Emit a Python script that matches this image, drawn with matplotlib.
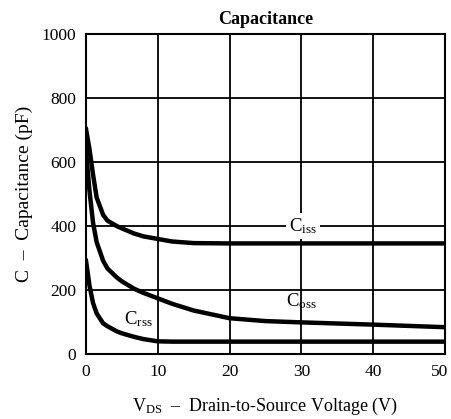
import matplotlib
matplotlib.use("Agg")
import matplotlib.pyplot as plt
import matplotlib.transforms as mtransforms

plt.rcParams['font.family'] = ['Liberation Serif', 'DejaVu Serif']
plt.rcParams['mathtext.fontset'] = 'custom'
plt.rcParams['mathtext.rm'] = 'Liberation Serif'
plt.rcParams['mathtext.it'] = 'Liberation Serif:italic'

vds = [0, 0.5, 1, 1.5, 2.4, 3, 4.3, 5, 6.7, 8, 10, 12, 15, 20, 25, 30, 40, 50]
ciss = [705, 640, 560, 489, 435, 417, 400, 393, 377, 368, 360, 352, 347, 346, 346, 346, 346, 346]
coss = [640, 510, 410, 350, 292, 268, 240, 228, 205, 192, 175, 158, 137, 113, 104, 100, 93, 85]
crss = [295, 215, 160, 128, 97, 88, 72, 66, 55, 48, 41, 40, 40, 40, 40, 40, 40, 40]

xticks = [0, 10, 20, 30, 40, 50]
yticks = [0, 200, 400, 600, 800, 1000]

fig = plt.figure(figsize=(4.52, 4.19), dpi=100)
ax = fig.add_axes([0.190, 0.154, 0.7945, 0.766])

for s in (ciss, coss, crss):
    ax.plot(vds, s, color='black', lw=3.2, solid_joinstyle='round', solid_capstyle='round', zorder=3)

ax.set_xlim(0, 50)
ax.set_ylim(0, 1000)
ax.set_xticks(xticks)
ax.set_yticks(yticks)
ax.grid(True, color='black', lw=1.3)
for sp in ax.spines.values():
    sp.set_linewidth(1.5)
ax.tick_params(length=0, labelsize=12.5, pad=7)

# keep the last x tick label inside the figure
last = ax.get_xticklabels()[-1]
last.set_transform(last.get_transform() + mtransforms.ScaledTranslation(-5 / 100, 0, fig.dpi_scale_trans))

ax.text(30.2, 400, r'C$_{\rm iss}$', fontsize=13.5, ha='center', va='center',
        bbox=dict(facecolor='white', edgecolor='none', pad=2), zorder=4)
ax.text(30, 165, r'C$_{\rm oss}$', fontsize=13.5, ha='center', va='center', zorder=4)
ax.text(7.3, 110, r'C$_{\rm rss}$', fontsize=13.5, ha='center', va='center', zorder=4)

ax.set_title('Capacitance', fontsize=13, fontweight='bold', pad=7)
ax.set_ylabel('C  –  Capacitance (pF)', fontsize=14, labelpad=6)
ax.set_xlabel(r'V$_{\rm DS}$  –  Drain-to-Source Voltage (V)', fontsize=13, labelpad=11)

fig.savefig('out.png', dpi=100)
